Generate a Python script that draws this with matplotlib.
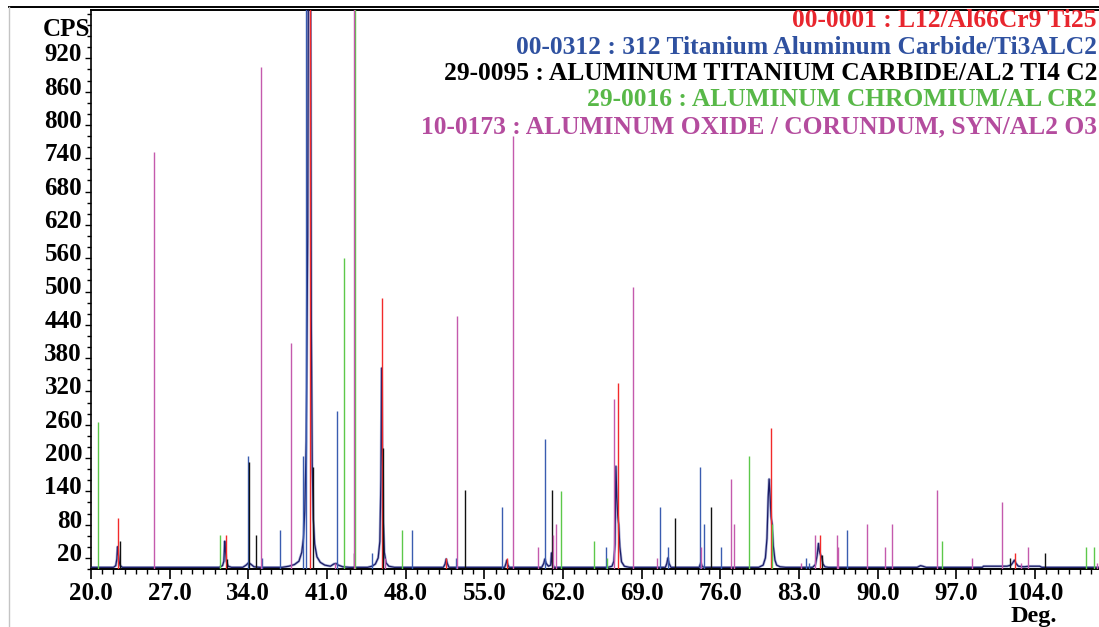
import matplotlib
matplotlib.use("Agg")
import matplotlib.pyplot as plt
from matplotlib.ticker import FixedLocator, MultipleLocator, FormatStrFormatter, NullFormatter
from matplotlib.lines import Line2D
import matplotlib.transforms as mtransforms

# ---------------- data ----------------
# measured scan (2-theta in degrees, counts per second)
scan_deg = [20.0, 21.0, 22.0, 22.2, 22.3, 22.36, 22.42, 22.5, 22.6, 22.8,
            31.4, 31.7, 31.82, 31.9, 31.97, 32.05, 32.2, 32.5,
            33.5, 33.8, 34.0, 34.2, 34.5, 35.0,
            37.0, 37.6, 38.1, 38.5, 38.75, 38.9, 39.02, 39.15, 39.28, 39.38, 39.5,
            39.6, 39.68, 39.78, 39.9, 40.1, 40.4, 40.8, 41.3, 41.6, 41.8, 42.0, 42.4, 43.0,
            44.6, 45.0, 45.3, 45.55, 45.7, 45.79, 45.86, 45.93, 46.0, 46.1, 46.25, 46.5, 47.0,
            51.35, 51.5, 51.6, 51.7, 51.85,
            56.8, 56.92, 57.0, 57.08, 57.2,
            60.1, 60.28, 60.38, 60.5, 60.7, 60.9, 60.97, 61.05, 61.2,
            66.0, 66.35, 66.52, 66.62, 66.7, 66.78, 66.86, 66.95, 67.05, 67.2, 67.45, 67.9,
            71.1, 71.23, 71.33, 71.43, 71.6,
            74.1, 74.26, 74.4, 74.6,
            79.4, 79.8, 80.0, 80.14, 80.25, 80.33, 80.42, 80.5, 80.6, 80.7, 80.85, 81.0, 81.3, 81.8,
            84.2, 84.45, 84.6, 84.72, 84.8, 84.9, 85.0, 85.12, 85.3, 85.6,
            93.5, 93.8, 94.0, 94.3,
            99.3, 99.4, 101.5, 101.85, 102.0, 102.15, 102.3, 102.5, 103.0, 103.5, 104.4, 104.6, 109.7]
scan_cps = [3, 3, 3, 6, 18, 40, 30, 14, 6, 3,
            3, 6, 14, 50, 32, 14, 5, 3,
            3, 7, 11, 9, 4, 3,
            3, 5, 8, 14, 30, 55, 105, 230, 600, 1400, 1400,
            450, 190, 90, 45, 22, 12, 7, 5, 9, 10, 7, 4, 3,
            3, 5, 9, 20, 50, 160, 362, 210, 90, 30, 11, 5, 3,
            3, 9, 18, 10, 3,
            3, 10, 16, 8, 3,
            3, 10, 18, 10, 5, 7, 29, 9, 3,
            3, 5, 14, 45, 185, 130, 97, 80, 40, 13, 5, 3,
            3, 10, 20, 10, 3,
            3, 11, 4, 3,
            3, 7, 20, 55, 130, 162, 130, 95, 80, 42, 16, 7, 4, 3,
            3, 8, 24, 46, 32, 26, 22, 9, 4, 3,
            3, 6, 5, 3,
            3, 5, 5, 7, 11, 16, 10, 5, 4, 5, 5, 3, 3]

# reference cards: line positions (deg) and stick heights (CPS)
l12_pos = [22.43, 31.98, 39.50, 45.89, 51.62, 56.98, 66.85, 80.47, 84.83, 102.24]
l12_int = [92, 61, 1010, 488, 20, 20, 335, 254, 61, 29]

ti3alc2_pos = [34.00, 35.19, 36.84, 38.84, 39.12, 41.86, 45.00, 48.56, 52.44, 56.60,
               60.36, 65.79, 70.62, 71.30, 74.18, 74.56, 76.05, 83.58, 83.87, 87.26]
ti3alc2_int = [204, 20, 71, 204, 1010, 285, 29, 71, 20, 111,
               234, 40, 111, 40, 184, 81, 40, 20, 11, 70]

ti2alc_pos = [22.55, 32.07, 34.02, 34.71, 39.75, 43.43, 45.97, 53.30, 60.98, 71.98,
              75.19, 85.05, 101.76, 104.87]
ti2alc_int = [50, 18, 193, 61, 184, 29, 218, 142, 142, 91,
              111, 25, 20, 29]

alcr2_pos = [20.59, 31.50, 42.54, 43.52, 47.70, 61.85, 64.72, 65.88, 78.54, 80.60,
             95.68, 108.50, 109.20]
alcr2_int = [264, 61, 560, 1010, 71, 140, 50, 20, 203, 81,
             50, 40, 40]

al2o3_pos = [25.58, 35.14, 37.80, 41.70, 43.36, 46.20, 52.53, 57.52, 59.77, 61.13,
             61.34, 66.56, 68.20, 70.32, 74.28, 76.94, 77.21, 83.20, 84.38, 86.40,
             86.48, 89.00, 90.67, 91.23, 95.30, 98.40, 101.08, 102.70, 103.33, 109.50]
al2o3_int = [751, 905, 407, 11, 1010, 20, 456, 780, 40, 61,
             81, 306, 509, 20, 40, 162, 81, 11, 61, 61,
             40, 81, 40, 81, 142, 20, 121, 11, 40, 11]

card_labels = ["00-0001 : L12/Al66Cr9 Ti25",
               "00-0312 : 312 Titanium Aluminum Carbide/Ti3ALC2",
               "29-0095 : ALUMINUM TITANIUM CARBIDE/AL2 TI4 C2",
               "29-0016 : ALUMINUM CHROMIUM/AL CR2",
               "10-0173 : ALUMINUM OXIDE / CORUNDUM, SYN/AL2 O3"]

x_major = [20.0, 27.0, 34.0, 41.0, 48.0, 55.0, 62.0, 69.0, 76.0, 83.0, 90.0, 97.0, 104.0]
y_major = [20, 80, 140, 200, 260, 320, 380, 440, 500, 560, 620, 680, 740, 800, 860, 920]

# ---------------- styling ----------------
W, H = 1099, 627
FONT = "Liberation Serif"
stick_colors = ["#f22a2a", "#3a5cb0", "#111111", "#5cc84a", "#c45aad"]
text_colors = ["#e8262e", "#2f51a0", "#000000", "#58b848", "#b44c9e"]

fig = plt.figure(figsize=(W / 100, H / 100), dpi=100)
fig.patch.set_facecolor("white")

ax_left, ax_right, ax_top, ax_bottom = 91, 1099, 10, 569
ax = fig.add_axes([ax_left / W, 1 - ax_bottom / H,
                   (ax_right - ax_left) / W, (ax_bottom - ax_top) / H])
ax.set_xlim(20.0, 20.0 + (ax_right - ax_left) / 11.24)
ax.set_ylim(0, (ax_bottom - ax_top) / 0.555)

# measured pattern: thin dark trace with a pale edge
ax.plot(scan_deg, scan_cps, color="#aab0d8", lw=1.9, solid_joinstyle="round", zorder=2)
ax.plot(scan_deg, scan_cps, color="#1b1d66", lw=0.9, zorder=3)

# reference sticks
cards = [(l12_pos, l12_int), (ti3alc2_pos, ti3alc2_int), (ti2alc_pos, ti2alc_int),
         (alcr2_pos, alcr2_int), (al2o3_pos, al2o3_int)]
for (pos, inten), col in zip(cards, stick_colors):
    ax.vlines(pos, 0, inten, colors=col, lw=1.0, zorder=4)

# axes frame
ax.spines["right"].set_visible(False)
ax.spines["top"].set_linewidth(1.4)
ax.spines["left"].set_linewidth(1.2)
ax.spines["bottom"].set_linewidth(1.4)

ax.xaxis.set_major_locator(FixedLocator(x_major))
ax.xaxis.set_minor_locator(MultipleLocator(1.0))
ax.xaxis.set_major_formatter(FormatStrFormatter("%.1f"))
ax.yaxis.set_major_locator(FixedLocator(y_major))
ax.yaxis.set_minor_locator(MultipleLocator(20))
ax.yaxis.set_major_formatter(NullFormatter())
ax.tick_params(axis="x", which="major", direction="out", length=7, width=1.2, pad=2,
               labelsize=18)
ax.tick_params(axis="x", which="minor", direction="out", length=3.5, width=1.0)
ax.tick_params(axis="y", which="major", direction="out", length=4, width=1.0)
ax.tick_params(axis="y", which="minor", direction="out", length=3, width=1.0)
for lbl in ax.get_xticklabels():
    lbl.set_fontfamily(FONT)
    lbl.set_fontweight("bold")

# y tick labels, baseline just under each tick
ylab_tr = mtransforms.blended_transform_factory(fig.transFigure, ax.transData)
ylab_tr = ylab_tr + mtransforms.ScaledTranslation(0, -3 / 100, fig.dpi_scale_trans)
for v in y_major:
    ax.text(82 / W, v, str(v), transform=ylab_tr, ha="right", va="baseline",
            fontsize=18, fontweight="bold", family=FONT, clip_on=False)

# axis captions
fig.text(90 / W, 1 - 36 / H, "CPS", ha="right", va="baseline",
         fontsize=18, fontweight="bold", family=FONT)
fig.text(1034 / W, 1 - 622 / H, "Deg.", ha="center", va="baseline",
         fontsize=17.5, fontweight="bold", family=FONT)

# card legend, right aligned in the upper corner
baselines = [27, 53.5, 80, 106.5, 133]
for label, col, yb in zip(card_labels, text_colors, baselines):
    fig.text(1097 / W, 1 - yb / H, label, ha="right", va="baseline",
             fontsize=18.4, fontweight="bold", family=FONT, color=col)

# outer frame lines
fig.add_artist(Line2D([9 / W, 1.0], [1 - 7 / H, 1 - 7 / H], transform=fig.transFigure,
                      color="black", lw=1.4))
fig.add_artist(Line2D([9 / W, 9 / W], [0.0, 1 - 7 / H], transform=fig.transFigure,
                      color="#c4c4c4", lw=1.0))

fig.savefig("out.png", dpi=100, facecolor="white")
